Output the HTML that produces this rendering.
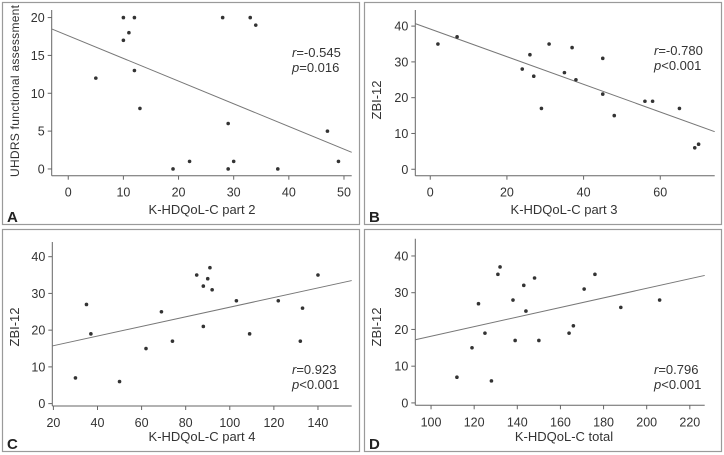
<!DOCTYPE html>
<html><head><meta charset="utf-8"><style>
body{margin:0;background:#fff;}
svg{display:block;font-family:"Liberation Sans",Arial,sans-serif;}
</style></head><body>
<svg id="fig" width="724" height="455" viewBox="0 0 724 455"></svg>
<script>
// Panel A data
const aX=[5,10,10,11,12,12,13,19,22,28,29,29,30,33,34,38,47,49];
const aY=[12,20,17,18,20,13,8,0,1,20,6,0,1,20,19,0,5,1];
const aXTicks=[0,10,20,30,40,50];
const aYTicks=[0,5,10,15,20];
const aFit=[18.5,2.2];
// Panel B data
const bX=[2,7,24,26,27,29,31,35,37,38,45,45,48,56,58,65,69,70];
const bY=[35,37,28,32,26,17,35,27,34,25,31,21,15,19,19,17,6,7];
const bXTicks=[0,20,40,60];
const bYTicks=[0,10,20,30,40];
const bFit=[40.7,10.5];
// Panel C data
const cX=[30,35,37,50,62,69,74,85,88,88,90,91,92,103,109,122,132,133,140];
const cY=[7,27,19,6,15,25,17,35,32,21,34,37,31,28,19,28,17,26,35];
const cXTicks=[20,40,60,80,100,120,140];
const cYTicks=[0,10,20,30,40];
const cFit=[15.7,33.5];
// Panel D data
const dX=[112,119,122,125,128,131,132,138,139,143,144,148,150,164,166,171,176,188,206];
const dY=[7,15,27,19,6,35,37,28,17,32,25,34,17,19,21,31,35,26,28];
const dXTicks=[100,120,140,160,180,200,220];
const dYTicks=[0,10,20,30,40];
const dFit=[17.2,34.7];

const NS="http://www.w3.org/2000/svg";
const svg=document.getElementById('fig');
function mk(tag,attrs,parent){const e=document.createElementNS(NS,tag);for(const k in attrs)e.setAttribute(k,attrs[k]);parent.appendChild(e);return e;}

const panels=[
 {id:'a',ox:0,oy:0,letter:'A',xs:aX,ys:aY,xt:aXTicks,yt:aYTicks,fit:aFit,x0:51.7,x1:351.7,xmin:-3,xmax:51.4,y0:175.7,y1:10,ymin:-0.89,ymax:21,xl:'K-HDQoL-C part 2',yl:'UHDRS functional assessment',r:'=-0.545',p:'=0.016',ty:52},
 {id:'b',ox:362,oy:0,letter:'B',xs:bX,ys:bY,xt:bXTicks,yt:bYTicks,fit:bFit,x0:53.3,x1:352.7,xmin:-3.9,xmax:74.2,y0:175.7,y1:10,ymin:-1.8,ymax:44.5,xl:'K-HDQoL-C part 3',yl:'ZBI-12',r:'=-0.780',p:'<0.001',ty:50},
 {id:'c',ox:0,oy:227,letter:'C',xs:cX,ys:cY,xt:cXTicks,yt:cYTicks,fit:cFit,x0:52.3,x1:351.7,xmin:19.5,xmax:155.3,y0:179,y1:15,ymin:-0.65,ymax:44,xl:'K-HDQoL-C part 4',yl:'ZBI-12',r:'=0.923',p:'<0.001',ty:142},
 {id:'d',ox:362,oy:227,letter:'D',xs:dX,ys:dY,xt:dXTicks,yt:dYTicks,fit:dFit,x0:53.3,x1:342.7,xmin:92.7,xmax:226.9,y0:178.3,y1:11.7,ymin:-0.65,ymax:44.7,xl:'K-HDQoL-C total',yl:'ZBI-12',r:'=0.796',p:'<0.001',ty:142}
];

panels.forEach(P=>{
 const g=mk('g',{transform:`translate(${P.ox},${P.oy})`},svg);
 
 
 const sx=v=>P.x0+(v-P.xmin)/(P.xmax-P.xmin)*(P.x1-P.x0);
 const sy=v=>P.y0-(v-P.ymin)/(P.ymax-P.ymin)*(P.y0-P.y1);
 const bd=mk('rect',{x:2.5,y:2.5,width:357,height:222,fill:'none',stroke:'#9a9a9a','stroke-width':1.2},g);
 
 
 const ya=mk('line',{x1:P.x0,y1:P.y1,x2:P.x0,y2:P.y0,stroke:'#666','stroke-width':1},g);
 
 
 const xa=mk('line',{x1:P.x0,y1:P.y0,x2:P.x1,y2:P.y0,stroke:'#666','stroke-width':1},g);
 
 
 P.xt.forEach(t=>{
  const x=sx(t);
  mk('line',{x1:x,y1:P.y0,x2:x,y2:P.y0+4,stroke:'#666'},g);
  const tx=mk('text',{x:x,y:P.y0+21,'text-anchor':'middle','font-size':12.5,fill:'#333'},g);
  tx.textContent=t;
  
  
 });
 P.yt.forEach(t=>{
  const y=sy(t);
  mk('line',{x1:P.x0-4,y1:y,x2:P.x0,y2:y,stroke:'#666'},g);
  const tx=mk('text',{x:P.x0-7,y:y+4.5,'text-anchor':'end','font-size':12.5,fill:'#333'},g);
  tx.textContent=t;
  
  
 });
 const fl=mk('line',{x1:sx(P.xmin),y1:sy(P.fit[0]),x2:sx(P.xmax),y2:sy(P.fit[1]),stroke:'#777','stroke-width':1},g);
 
 
 P.xs.forEach((v,i)=>{
  const c=mk('circle',{cx:sx(v),cy:sy(P.ys[i]),r:1.8,fill:'#333'},g);
  
  
 });
 const xl=mk('text',{x:202,y:214,'text-anchor':'middle','font-size':13,fill:'#333'},g);
 xl.textContent=P.xl;
 
 
 const yl=mk('text',{x:0,y:0,'text-anchor':'middle','font-size':P.id==='a'?12:13,fill:'#333',textLength:P.id==='a'?172:null,transform:`translate(19,${P.id==='a'?91:100}) rotate(-90)`},g);
 if(P.id!=='a')yl.removeAttribute('textLength');
 yl.textContent=P.yl;
 
 
 const rt=mk('text',{x:292,y:P.ty+5,'font-size':13,fill:'#333'},g);
 rt.innerHTML='<tspan font-style="italic">r</tspan>'+P.r;
 
 
 const pt=mk('text',{x:292,y:P.ty+20,'font-size':13,fill:'#333'},g);
 pt.innerHTML='<tspan font-style="italic">p</tspan>'+P.p.replace('<','&lt;');
 
 
 const lt=mk('text',{x:7,y:222,'font-size':15,'font-weight':'bold',fill:'#222'},g);
 lt.textContent=P.letter;
 
 
});
</script>
</body></html>
